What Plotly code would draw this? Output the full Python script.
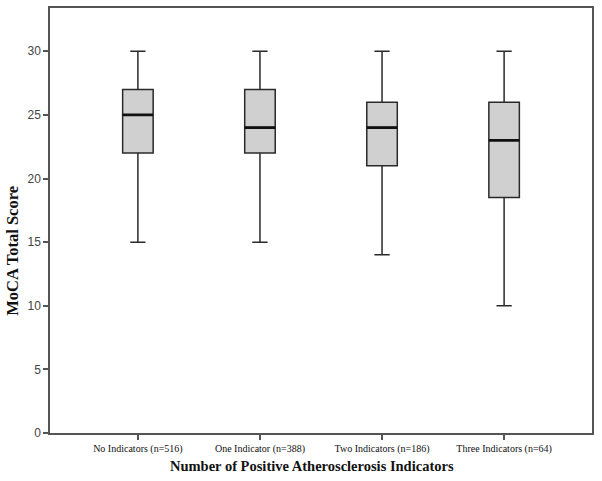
import plotly.graph_objects as go

categories = ["No Indicators (n=516)", "One Indicator (n=388)",
              "Two Indicators (n=186)", "Three Indicators (n=64)"]
lower = [15, 15, 14, 10]
q1 = [22, 22, 21, 18.5]
median = [25, 24, 24, 23]
q3 = [27, 27, 26, 26]
upper = [30, 30, 30, 30]
y_ticks = [0, 5, 10, 15, 20, 25, 30]

serif = "Liberation Serif, Times New Roman, serif"

fig = go.Figure()
fig.add_trace(go.Box(
    x=categories, q1=q1, median=median, q3=q3,
    lowerfence=lower, upperfence=upper,
    fillcolor="#d0d0d0",
    line=dict(color="#2a2a2a", width=1.5),
    width=0.25, whiskerwidth=0.5,
    boxpoints=False, showlegend=False, hoverinfo="skip",
))
# thicker median line overlay (degenerate box at the median)
fig.add_trace(go.Box(
    x=categories, q1=median, median=median, q3=median,
    lowerfence=median, upperfence=median,
    fillcolor="rgba(0,0,0,0)",
    line=dict(color="#111111", width=2.8),
    width=0.25, whiskerwidth=0,
    boxpoints=False, showlegend=False, hoverinfo="skip",
))

fig.update_layout(
    width=602, height=481, boxmode="overlay",
    margin=dict(l=50, r=10, t=8, b=48, autoexpand=False),
    paper_bgcolor="white", plot_bgcolor="white",
    xaxis=dict(
        type="category", range=[-0.72, 3.72], automargin=False,
        showline=True, linecolor="#555555", linewidth=1.5, mirror=True,
        ticks="outside", ticklen=5, tickcolor="#555555", tickwidth=1.5,
        showgrid=False, zeroline=False,
        tickfont=dict(family=serif, size=10, color="#111"),
    ),
    yaxis=dict(
        range=[0, 33.4], tickvals=y_ticks, automargin=False,
        showline=True, linecolor="#555555", linewidth=1.5, mirror=True,
        ticks="outside", ticklen=5, tickcolor="#555555", tickwidth=1.5,
        showgrid=False, zeroline=False,
        tickfont=dict(family="Liberation Sans, Arial, sans-serif", size=12, color="#444"),
    ),
    annotations=[
        dict(text="<b>Number of Positive Atherosclerosis Indicators</b>",
             xref="paper", yref="paper", x=0.484, y=-0.078, xanchor="center", yanchor="middle",
             showarrow=False, font=dict(family=serif, size=14.5, color="#111")),
        dict(text="<b>MoCA Total Score</b>",
             xref="paper", yref="paper", x=-0.068, y=0.429, xanchor="center", yanchor="middle",
             textangle=-90, showarrow=False, font=dict(family=serif, size=16.5, color="#111")),
    ],
)

fig.write_html("out.html", config={"responsive": False, "displayModeBar": False},
               post_script="document.body.style.margin='0';document.body.style.overflow='hidden';")
